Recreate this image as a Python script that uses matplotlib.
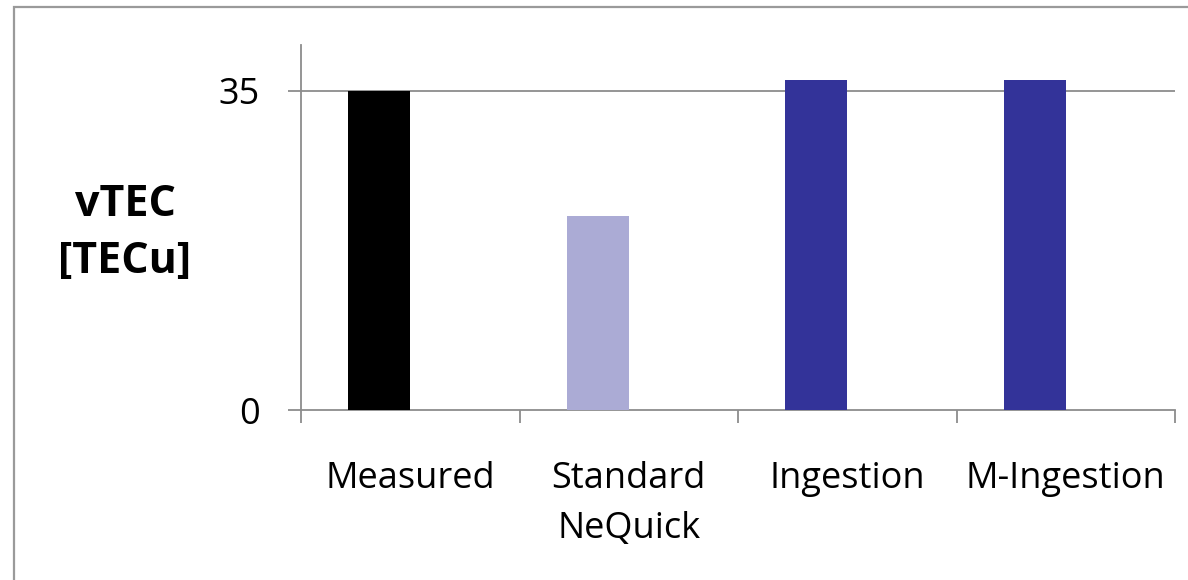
import matplotlib.pyplot as plt
from matplotlib.patches import Rectangle

# Data
categories = ['Measured', 'Standard\nNeQuick', 'Ingestion', 'M-Ingestion']
vtec = [35.0, 21.3, 36.2, 36.2]
bar_colors = ['#000000', '#ABABD5', '#333399', '#333399']
yticks = [0, 35]

plt.rcParams['font.family'] = ['Open Sans', 'DejaVu Sans']
grey = '#8C8C8C'

fig = plt.figure(figsize=(11.88, 5.8), dpi=100)
ax = fig.add_axes([301 / 1188, 1 - 410 / 580, 874 / 1188, 365 / 580])

# outer frame (cut off at right/bottom like the original slide)
fig.patches.append(Rectangle((14 / 1188, -0.1), 1.2, 1 - 7 / 580 + 0.1,
                             transform=fig.transFigure, fill=False,
                             edgecolor='#9A9A9A', linewidth=1.6))

x = list(range(len(categories)))
offset = -0.142   # bars sit on the left half of each category slot
ax.bar([i + offset for i in x], vtec, width=0.284, color=bar_colors, zorder=3)

ax.set_xlim(-0.5, len(categories) - 0.5)
ax.set_ylim(0, 40)
ax.set_yticks(yticks)
ax.set_yticklabels([str(v) for v in yticks])
for v in yticks[1:]:
    ax.axhline(v, color=grey, linewidth=1.3, zorder=1)

ax.set_xticks(x)
ax.set_xticklabels(categories, linespacing=1.5)
ax.set_xticks([i - 0.5 for i in range(len(categories) + 1)], minor=True)
ax.tick_params(axis='x', which='major', length=0, pad=37, labelsize=26)
ax.tick_params(axis='x', which='minor', length=9.5, width=1.3, color=grey, direction='out')
ax.tick_params(axis='y', length=9.5, width=1.3, color=grey, pad=20, labelsize=26)

for side in ['top', 'right']:
    ax.spines[side].set_visible(False)
for side in ['left', 'bottom']:
    ax.spines[side].set_color(grey)
    ax.spines[side].set_linewidth(1.3)

fig.text(125 / 1188, 1 - 233 / 580, 'vTEC\n[TECu]', ha='center', va='center',
         fontsize=31, fontweight='bold', linespacing=1.45)

fig.savefig('out.png', dpi=100, facecolor='white')
